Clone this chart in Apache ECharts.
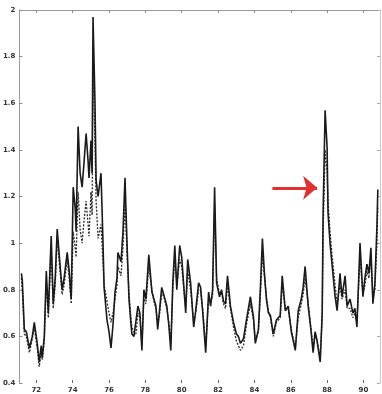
<!DOCTYPE html>
<html>
<head>
<meta charset="utf-8">
<script src="https://cdn.jsdelivr.net/npm/echarts@6/dist/echarts.min.js"></script>
<style>
html,body{margin:0;padding:0;background:#fff;}
#main{width:382px;height:394px;}
</style>
</head>
<body>
<div id="main"></div>
<script>
// years (decimal)
var years=[71.18,71.23,71.34,71.45,71.62,71.78,71.89,72.05,72.16,72.27,72.33,72.44,72.55,72.66,72.82,72.93,
	73.04,73.15,73.26,73.42,73.53,73.70,73.81,73.92,74.03,74.14,74.19,74.30,74.41,74.52,74.63,74.74,74.85,74.90,
	75.01,75.07,75.12,75.23,75.29,75.40,75.56,75.67,75.73,75.89,76.00,76.11,76.22,76.33,76.44,76.49,76.66,76.77,76.88,76.99,
	77.10,77.21,77.26,77.37,77.48,77.59,77.70,77.81,77.92,78.03,78.19,78.36,78.47,78.58,78.68,78.79,78.90,
	79.01,79.18,79.29,79.40,79.51,79.62,79.73,79.89,80.00,80.11,80.22,80.33,80.49,80.66,80.77,80.93,
	81.04,81.15,81.32,81.48,81.59,81.70,81.81,81.92,82.08,82.19,82.30,82.41,82.52,82.68,82.85,
	83.01,83.12,83.23,83.40,83.56,83.78,83.95,84.05,84.22,84.33,84.44,84.55,84.66,84.77,84.88,
	85.04,85.21,85.42,85.53,85.70,85.86,86.03,86.14,86.25,86.41,86.58,86.68,86.79,86.96,
	87.12,87.23,87.34,87.45,87.62,87.73,87.78,87.89,88.00,88.05,88.16,88.27,88.44,88.55,88.71,88.82,88.99,
	89.10,89.26,89.42,89.53,89.64,89.81,89.97,90.08,90.19,90.30,90.41,90.52,90.63,90.74,90.79];
// solid series
var solidVals=[0.87,0.84,0.63,0.62,0.55,0.60,0.66,0.57,0.49,0.56,0.51,0.60,0.88,0.70,1.03,0.74,
	0.85,1.06,0.95,0.80,0.85,0.96,0.88,0.76,1.24,1.15,1.05,1.50,1.30,1.24,1.35,1.47,1.35,1.28,
	1.44,1.30,1.97,1.60,1.27,1.20,1.30,1.00,0.81,0.67,0.62,0.55,0.65,0.79,0.85,0.96,0.92,1.05,1.28,1.00,
	0.76,0.65,0.61,0.60,0.60,0.73,0.70,0.54,0.80,0.76,0.95,0.79,0.76,0.73,0.63,0.72,0.81,
	0.78,0.73,0.65,0.54,0.83,0.99,0.80,0.99,0.94,0.82,0.70,0.93,0.83,0.64,0.71,0.83,
	0.81,0.71,0.53,0.79,0.73,0.80,1.24,0.83,0.77,0.80,0.75,0.74,0.86,0.73,0.66,
	0.61,0.60,0.57,0.59,0.67,0.77,0.68,0.57,0.63,0.81,1.02,0.87,0.76,0.70,0.69,
	0.61,0.67,0.69,0.86,0.71,0.73,0.62,0.58,0.54,0.71,0.76,0.81,0.90,0.73,
	0.62,0.53,0.62,0.58,0.49,0.70,1.13,1.57,1.41,1.13,1.00,0.91,0.77,0.71,0.87,0.77,0.86,
	0.73,0.76,0.70,0.72,0.64,1.00,0.77,0.85,0.91,0.87,0.98,0.74,0.83,1.07,1.23];
// dashed series
var dashVals=[0.85,0.80,0.61,0.60,0.53,0.59,0.64,0.55,0.47,0.53,0.50,0.58,0.84,0.68,0.97,0.72,
	0.82,1.02,0.92,0.78,0.82,0.93,0.85,0.74,1.05,0.98,0.94,1.22,1.06,1.00,1.10,1.18,1.08,1.03,
	1.22,1.12,1.78,1.42,1.18,1.02,1.08,0.92,0.82,0.75,0.70,0.66,0.70,0.76,0.82,0.90,0.86,0.98,1.18,0.96,
	0.78,0.68,0.64,0.62,0.61,0.70,0.68,0.56,0.76,0.74,0.90,0.80,0.75,0.72,0.65,0.70,0.79,
	0.77,0.72,0.66,0.57,0.80,0.94,0.82,0.93,0.90,0.81,0.72,0.88,0.80,0.66,0.70,0.80,
	0.79,0.72,0.56,0.76,0.74,0.78,1.16,0.85,0.78,0.79,0.74,0.72,0.82,0.72,0.64,
	0.58,0.56,0.54,0.56,0.65,0.74,0.67,0.58,0.62,0.78,0.95,0.86,0.77,0.71,0.68,
	0.60,0.66,0.68,0.82,0.72,0.72,0.63,0.59,0.55,0.68,0.74,0.78,0.85,0.74,
	0.63,0.55,0.61,0.58,0.51,0.68,1.05,1.40,1.30,1.18,1.05,0.95,0.82,0.74,0.82,0.76,0.80,
	0.72,0.72,0.68,0.70,0.66,0.94,0.78,0.82,0.88,0.85,0.93,0.76,0.80,1.00,1.16];
// tick labels
var xTicks=[72,74,76,78,80,82,84,86,88,90];
// red arrow annotation (data coords)
var arrowFrom=[84.99,1.237], arrowTo=[87.45,1.237];

function pairs(xs,ys){
	var out=[];
	for(var i=0;i<xs.length;i++){ out.push([xs[i],ys[i]]); }
	return out;
}

var axisGray='#9a9a9a';
var lblStyle={fontSize:7,color:'#333',fontWeight:'bold',fontFamily:'DejaVu Sans'};

var myChart=echarts.init(document.getElementById('main'));
var option={
	animation:false,
	backgroundColor:'#fff',
	grid:{left:18,right:2,top:10,bottom:11},
	xAxis:[{
		type:'value',min:71.07,max:90.91,position:'bottom',
		axisLine:{show:false},
		axisTick:{show:true,inside:true,length:3,customValues:xTicks,lineStyle:{color:'#666'}},
		axisLabel:Object.assign({margin:4,customValues:xTicks},lblStyle),
		splitLine:{show:false}
	},{
		type:'value',min:71.07,max:90.91,position:'top',
		axisLine:{show:true,lineStyle:{color:axisGray,width:1}},
		axisTick:{show:true,inside:true,length:3,customValues:xTicks,lineStyle:{color:'#888'}},
		axisLabel:{show:false},
		splitLine:{show:false}
	}],
	yAxis:[{
		type:'value',min:0.4,max:2,interval:0.2,position:'left',
		axisLine:{show:true,lineStyle:{color:axisGray,width:1}},
		axisTick:{show:true,inside:true,length:3,lineStyle:{color:'#888'}},
		axisLabel:Object.assign({margin:4},lblStyle),
		splitLine:{show:false}
	},{
		type:'value',min:0.4,max:2,interval:0.2,position:'right',
		axisLine:{show:true,lineStyle:{color:'#c8c8c8',width:1}},
		axisTick:{show:true,inside:true,length:3,lineStyle:{color:'#aaa'}},
		axisLabel:{show:false},
		splitLine:{show:false}
	}],
	series:[{
		type:'line',
		data:pairs(years,dashVals),
		showSymbol:false,
		lineStyle:{color:'#2a2a2a',width:1.3,type:[2,1.5]},
		z:2
	},{
		type:'line',
		data:pairs(years,solidVals),
		showSymbol:false,
		lineStyle:{color:'#1a1a1a',width:1.6},
		z:3,
		markLine:{
			silent:true,
			symbol:['none','arrow'],
			symbolSize:[18,14],
			label:{show:false},
			lineStyle:{color:'#e0302f',width:3,type:'solid'},
			data:[[{coord:arrowFrom},{coord:arrowTo}]]
		}
	}]
};
myChart.setOption(option);
</script>
</body>
</html>
